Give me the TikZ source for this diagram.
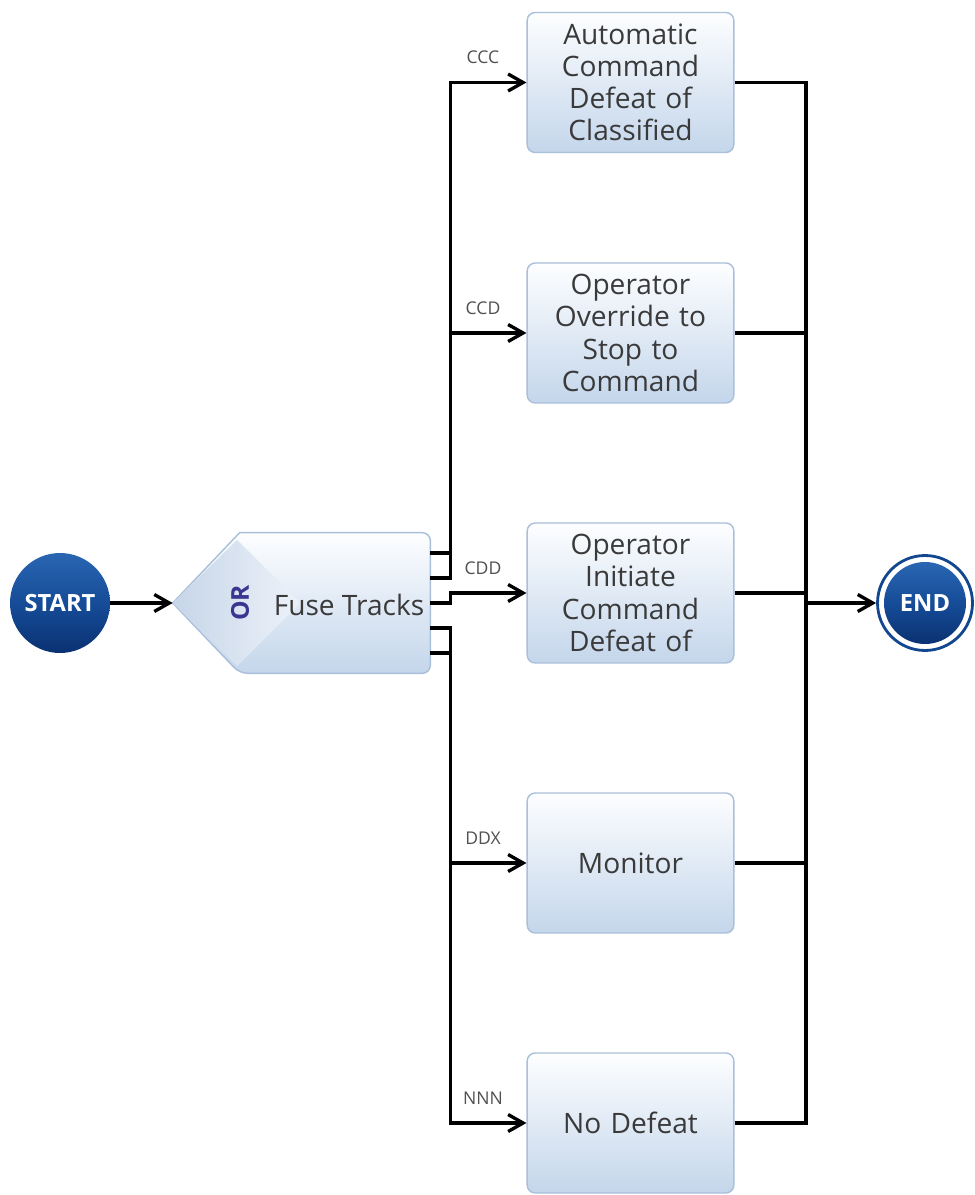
\documentclass[tikz,border=0pt]{standalone}
\usepackage{fontspec}
\setmainfont{Open Sans}
\usetikzlibrary{arrows.meta,calc}

\definecolor{boxtop}{HTML}{FDFEFF}
\definecolor{boxbot}{HTML}{C4D6EB}
\definecolor{boxline}{HTML}{A9BFDA}
\definecolor{gateleft}{HTML}{C6D5E8}
\definecolor{gateright}{HTML}{EDF2F9}
\definecolor{txt}{HTML}{3A3A3A}
\definecolor{lbl}{HTML}{505050}
\definecolor{navyring}{HTML}{12478F}
\definecolor{navytop}{HTML}{2A66B2}
\definecolor{navymid}{HTML}{164C98}
\definecolor{navybot}{HTML}{0A3172}
\definecolor{orink}{HTML}{3B3490}

\begin{document}
\begin{tikzpicture}[x=0.02cm,y=-0.02cm,
  stepbox/.style={draw=boxline, line width=0.8pt, rounded corners=0.16cm,
    top color=boxtop, bottom color=boxbot,
    minimum width=4.02cm, minimum height=2.8cm, text width=3.9cm,
    align=center, font=\fontsize{16}{18.3}\selectfont, text=txt},
  flow/.style={line width=1.9pt, draw=black},
  arr/.style={flow, -{Straight Barb[length=0.3cm,width=0.34cm]}},
  tag/.style={font=\fontsize{10}{12}\selectfont, text=lbl},
  terminal/.style={circle, top color=navytop, bottom color=navybot,
    middle color=navymid, text=white, font=\bfseries\fontsize{13.5}{15}\selectfont}
]
\useasboundingbox (0,0) rectangle (974,1195);

% start and end terminals
\node[terminal, minimum size=2cm] (start) at (60,603) {START};
\node[circle, draw=navyring, line width=1.6pt, fill=white, minimum size=1.9cm] (finish) at (925,603) {};
\node[terminal, minimum size=1.64cm] (finishin) at (finish) {END};

% OR gate with its task
\node[minimum width=5.14cm, minimum height=2.8cm] (fuse) at (301.5,603) {};
\path[draw=boxline, line width=0.8pt, top color=boxtop, bottom color=boxbot]
  (fuse.west) -- ([xshift=1.34cm]fuse.north west)
  {[rounded corners=0.16cm] -- (fuse.north east) -- (fuse.south east)
  -- ([xshift=1.34cm]fuse.south west)} -- cycle;
\shade[left color=gateleft, right color=gateright]
  (fuse.west) -- (237,540) -- (300,603) -- (237,666) -- cycle;
\node[rotate=90, text=orink, font=\bfseries\fontsize{14}{16}\selectfont] (ortxt) at (240,603) {OR};
\node[font=\fontsize{16}{18}\selectfont, text=txt] (fusetxt) at (349,605) {Fuse Tracks};

% exits on the right side of the gate
\coordinate (f1) at ([yshift=1cm]fuse.east);
\coordinate (f2) at ([yshift=0.5cm]fuse.east);
\coordinate (f3) at (fuse.east);
\coordinate (f4) at ([yshift=-0.5cm]fuse.east);
\coordinate (f5) at ([yshift=-1cm]fuse.east);

% outcome boxes
\node[stepbox] (b1) at (630.5,82.5) {Automatic\\Command\\Defeat of\\Classified};
\node[stepbox] (b2) at (630.5,333) {Operator\\Override to\\Stop to\\Command};
\node[stepbox] (b3) at (630.5,593) {Operator\\Initiate\\Command\\Defeat of};
\node[stepbox] (b4) at (630.5,863) {Monitor};
\node[stepbox] (b5) at (630.5,1123) {No Defeat};

% branch labels
\node[tag] (l1) at (483,57) {CCC};
\node[tag] (l2) at (483,308) {CCD};
\node[tag] (l3) at (483,568) {CDD};
\node[tag] (l4) at (483,838) {DDX};
\node[tag] (l5) at (483,1098) {NNN};

% collecting bus
\coordinate (rbus) at (806,603);

% connectors
\draw[arr] (start) -- (fuse.west);
\draw[arr] (f1) -- ++(20,0) |- (b1.west);
\draw[arr] (f2) -- ++(20,0) |- (b2.west);
\draw[arr] (f3) -- ++(20,0) |- (b3.west);
\draw[arr] (f4) -- ++(20,0) |- (b4.west);
\draw[arr] (f5) -- ++(20,0) |- (b5.west);
\foreach \b in {b1,b2,b3,b4,b5}
  \draw[flow] (\b.east) -| (rbus);
\draw[arr] (rbus) -- (finish.west);
\end{tikzpicture}
\end{document}
